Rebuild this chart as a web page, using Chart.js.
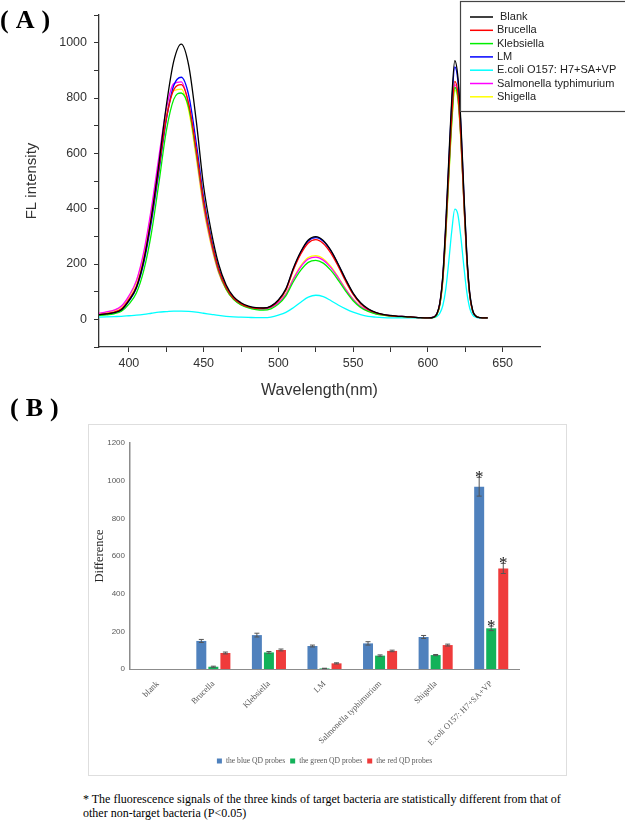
<!DOCTYPE html>
<html>
<head>
<meta charset="utf-8">
<script src="https://cdn.jsdelivr.net/npm/chart.js@4.4.0/dist/chart.umd.min.js"></script>
<style>
  body { margin: 0; background: #fff; }
  #page { position: relative; width: 625px; height: 820px; overflow: hidden; }
  .panel { position: absolute; font: bold 26px 'Liberation Serif', serif; letter-spacing: 7px; color: #000; }
  #boxA { position: absolute; left: 0; top: 0; width: 625px; height: 400px; }
  #frameB { position: absolute; left: 88px; top: 424px; width: 479px; height: 352px; border: 1px solid #dedede; box-sizing: border-box; }
  #boxB { position: absolute; left: 88px; top: 424px; width: 479px; height: 352px; }
  #note { position: absolute; left: 83px; top: 792px; font: 12px/14px 'Liberation Serif', serif; color: #000; white-space: nowrap; }
</style>
</head>
<body>
<div id="page">
  <div id="boxA"><canvas id="chartA"></canvas></div>
  <div class="panel" style="left:0px; top:5px;">(A)</div>
  <div class="panel" style="left:10px; top:393px;">(B)</div>
  <div id="frameB"></div>
  <div id="boxB"><canvas id="chartB"></canvas></div>
  <div id="note">* The fluorescence signals of the three kinds of target bacteria are statistically different from that of<br>other non-target bacteria (P&lt;0.05)</div>
</div>
<script>
// ---- panel A: emission spectra ----
var wavelengths = [380,385,390,395,400,405,410,415,420,425,430,435,440,445,450,455,460,465,470,475,480,485,490,495,500,505,510,515,520,525,530,535,540,545,550,555,560,565,570,575,580,585,590,595,600,
  604,606,608,610,612,614,616,618,620,622,624,626,628,630,632,635,640];

var blank = [17,20,24,35,68,115,214,368,560,771,933,995,918,720,480,320,200,125,82,60,48,42,41,48,70,110,185,245,287,299,285,250,200,145,95,60,38,25,18,14,11,10,8,6,5,
  8,20,60,160,350,580,800,935,880,720,470,240,95,32,12,6,5];
var brucella = [17,21,26,38,72,120,218,365,545,725,830,848,780,615,425,285,180,115,76,56,45,40,40,46,67,105,178,236,276,288,274,240,192,138,90,56,36,24,17,13,11,10,8,6,5,
  8,19,56,150,325,540,740,860,820,670,440,225,88,29,12,6,5];
var klebsiella = [14,16,20,29,55,95,178,310,490,680,795,818,765,605,420,282,175,110,72,52,41,35,33,38,55,85,136,178,206,213,203,178,142,102,67,43,29,20,15,12,10,9,7,6,5,
  7,17,52,142,310,520,715,838,805,660,435,222,88,29,12,6,5];
var lm = [16,19,23,34,66,112,205,350,530,720,845,875,810,640,440,295,185,118,78,57,46,41,40,47,69,108,182,242,283,295,282,248,198,143,93,58,37,24,17,13,11,10,8,6,5,
  8,19,58,155,340,565,780,912,865,705,460,235,92,30,12,6,5];
var ecoli = [8,9,10,11,13,15,18,22,26,28,30,30,29,26,22,18,14,11,9,8,7,6,6,8,15,25,42,62,80,87,82,68,52,38,26,17,11,8,6,5,5,5,5,5,5,
  6,10,22,50,110,210,320,398,380,300,195,100,40,15,8,5,5];
var salmonella = [22,27,33,48,85,140,245,400,585,760,852,858,775,600,410,275,172,110,73,54,43,38,37,43,60,90,145,190,218,225,214,188,150,108,72,46,31,21,16,12,10,9,7,6,5,
  8,19,55,148,320,530,730,848,810,660,432,220,86,28,11,6,5];
var shigella = [21,26,32,46,82,136,238,390,568,738,826,832,755,585,400,268,168,108,72,53,43,38,37,43,61,92,148,194,223,230,219,192,153,110,73,47,31,21,16,12,10,9,7,6,5,
  7,17,52,140,305,510,705,828,795,650,428,218,86,28,11,6,5];

var spectraNames = ['Blank','Brucella','Klebsiella','LM','E.coli O157: H7+SA+VP','Salmonella typhimurium','Shigella'];
var spectraColors = ['#000000','#ff0000','#00ee00','#0000ff','#00ffff','#ff00ff','#ffff00'];
var spectraValues = [blank, brucella, klebsiella, lm, ecoli, salmonella, shigella];
var xTickValues = [400,425,450,475,500,525,550,575,600,625,650];

// ---- panel B: difference bars ----
var categories = ['blank','Brucella','Klebsiella','LM','Salmonella typhimurium','Shigella','E.coli O157: H7+SA+VP'];
var blueProbe  = [0,149,180,122,136,170,968];
var greenProbe = [0, 12, 88,  3, 71, 74,216];
var redProbe   = [0, 85,101, 30, 96,127,534];
var blueErr  = [0, 8,10, 5, 9, 8,50];
var greenErr = [0, 3, 5, 1, 4, 3,12];
var redErr   = [0, 5, 5, 3, 4, 5,27];
var significant = [0,0,0,0,0,0,1];

Chart.defaults.font.family = "'Liberation Sans', Arial, sans-serif";
Chart.defaults.animation = false;

var legendBoxA = {
  id: 'legendBoxA',
  afterDraw: function(chart) {
    var ctx = chart.ctx;
    ctx.save();
    ctx.fillStyle = '#fff';
    ctx.fillRect(460, 1, 170, 110);
    ctx.strokeStyle = '#444';
    ctx.lineWidth = 1.2;
    ctx.strokeRect(460.5, 1.5, 170, 110);
    ctx.font = "11px 'Liberation Sans', Arial, sans-serif";
    ctx.textBaseline = 'middle';
    chart.data.datasets.forEach(function(ds, i) {
      var y = 17 + i * 13.3;
      ctx.strokeStyle = ds.borderColor;
      ctx.lineWidth = 1.5;
      ctx.beginPath();
      ctx.moveTo(470, y);
      ctx.lineTo(493, y);
      ctx.stroke();
      ctx.fillStyle = '#222';
      ctx.fillText(ds.label, i === 0 ? 500 : 497, y);
    });
    ctx.restore();
  }
};

new Chart(document.getElementById('chartA'), {
  type: 'line',
  data: {
    labels: wavelengths,
    datasets: spectraNames.map(function(name, i) {
      return {
        label: name,
        data: spectraValues[i].map(function(v, j) { return {x: wavelengths[j], y: v}; }),
        borderColor: spectraColors[i],
        borderWidth: 1.3,
        pointRadius: 0,
        cubicInterpolationMode: 'monotone',
        fill: false
      };
    })
  },
  options: {
    responsive: true,
    maintainAspectRatio: false,
    devicePixelRatio: 1,
    layout: { padding: { left: 0, top: 15, right: 85, bottom: 0 } },
    plugins: { legend: { display: false }, tooltip: { enabled: false } },
    scales: {
      x: {
        type: 'linear', min: 380, max: 675,
        afterBuildTicks: function(s) { s.ticks = xTickValues.map(function(v) { return {value: v}; }); },
        afterFit: function(s) { s.height = 53; },
        grid: { drawOnChartArea: false, drawTicks: true, tickLength: 5, color: '#333' },
        border: { color: '#333', width: 1.3 },
        ticks: {
          autoSkip: false, maxRotation: 0, padding: 4, color: '#333',
          font: { size: 12.5 },
          callback: function(v) { return v % 50 === 0 ? v : ''; }
        },
        title: { display: true, text: 'Wavelength(nm)', color: '#333', font: { size: 16 }, padding: { top: 0, bottom: 0 } }
      },
      y: {
        min: -100, max: 1100,
        afterFit: function(s) { s.width = 99; },
        grid: { drawOnChartArea: false, drawTicks: true, tickLength: 5, color: '#333' },
        border: { color: '#333', width: 1.3 },
        ticks: {
          stepSize: 100, padding: 7, color: '#333', font: { size: 12.5 },
          callback: function(v) { return (v % 200 === 0 && v >= 0 && v <= 1000) ? v : ''; }
        },
        title: { display: true, text: 'FL intensity', color: '#333', font: { size: 15 }, padding: { top: 23, bottom: 0 } }
      }
    }
  },
  plugins: [legendBoxA]
});

var errorBars = {
  id: 'errorBars',
  afterDatasetsDraw: function(chart) {
    var ctx = chart.ctx, yScale = chart.scales.y;
    ctx.save();
    chart.data.datasets.forEach(function(ds, i) {
      var meta = chart.getDatasetMeta(i);
      meta.data.forEach(function(bar, j) {
        var e = ds.errors[j];
        if (!e) return;
        var v = ds.data[j];
        var top = yScale.getPixelForValue(v + e);
        var bot = yScale.getPixelForValue(v - e);
        ctx.strokeStyle = '#555';
        ctx.lineWidth = 1;
        ctx.beginPath();
        ctx.moveTo(bar.x, top); ctx.lineTo(bar.x, bot);
        ctx.moveTo(bar.x - 2.5, top); ctx.lineTo(bar.x + 2.5, top);
        ctx.moveTo(bar.x - 2.5, bot); ctx.lineTo(bar.x + 2.5, bot);
        ctx.stroke();
        if (significant[j]) {
          ctx.fillStyle = '#111';
          ctx.font = "17px 'Liberation Serif', serif";
          ctx.textAlign = 'center';
          ctx.textBaseline = 'alphabetic';
          ctx.fillText('*', bar.x, top + 5);
        }
      });
    });
    ctx.restore();
  }
};

var legendB = {
  id: 'legendB',
  afterDraw: function(chart) {
    var ctx = chart.ctx, area = chart.chartArea;
    ctx.save();
    ctx.font = "7.6px 'Liberation Serif', serif";
    ctx.textBaseline = 'middle';
    var items = chart.data.datasets;
    var total = 0;
    items.forEach(function(ds, i) { total += 5 + 4 + ctx.measureText(ds.label).width + (i < items.length - 1 ? 5 : 0); });
    var x = (area.left + area.right) / 2 - total / 2, y = 337;
    items.forEach(function(ds) {
      ctx.fillStyle = ds.backgroundColor;
      ctx.fillRect(x, y - 2.5, 5, 5);
      x += 9;
      ctx.fillStyle = '#595959';
      ctx.fillText(ds.label, x, y);
      x += ctx.measureText(ds.label).width + 5;
    });
    ctx.restore();
  }
};

new Chart(document.getElementById('chartB'), {
  type: 'bar',
  data: {
    labels: categories,
    datasets: [
      { label: 'the blue QD probes', data: blueProbe, errors: blueErr, backgroundColor: '#4f81bd' },
      { label: 'the green QD probes', data: greenProbe, errors: greenErr, backgroundColor: '#12b259' },
      { label: 'the red QD probes', data: redProbe, errors: redErr, backgroundColor: '#ef3b3b' }
    ]
  },
  options: {
    responsive: true,
    maintainAspectRatio: false,
    devicePixelRatio: 1,
    categoryPercentage: 0.65,
    barPercentage: 0.83,
    layout: { padding: { left: 0, top: 19, right: 48, bottom: 0 } },
    plugins: { legend: { display: false }, tooltip: { enabled: false } },
    scales: {
      x: {
        afterFit: function(s) { s.height = 107; },
        grid: { display: false },
        border: { color: '#8c8c8c', width: 1 },
        ticks: {
          autoSkip: false, minRotation: 45, maxRotation: 45, padding: 2, color: '#595959',
          font: { family: "'Liberation Serif', serif", size: 8.5 }
        }
      },
      y: {
        min: 0, max: 1200,
        afterFit: function(s) { s.width = 42; },
        grid: { display: false, drawTicks: false },
        border: { color: '#8c8c8c', width: 1.5 },
        ticks: { stepSize: 200, padding: 5, color: '#595959', font: { size: 8 },
          callback: function(v) { return String(v); } },
        title: { display: true, text: 'Difference', color: '#262626', font: { family: "'Liberation Serif', serif", size: 12.5 }, padding: { top: 4, bottom: 0 } }
      }
    }
  },
  plugins: [errorBars, legendB]
});
</script>
</body>
</html>
